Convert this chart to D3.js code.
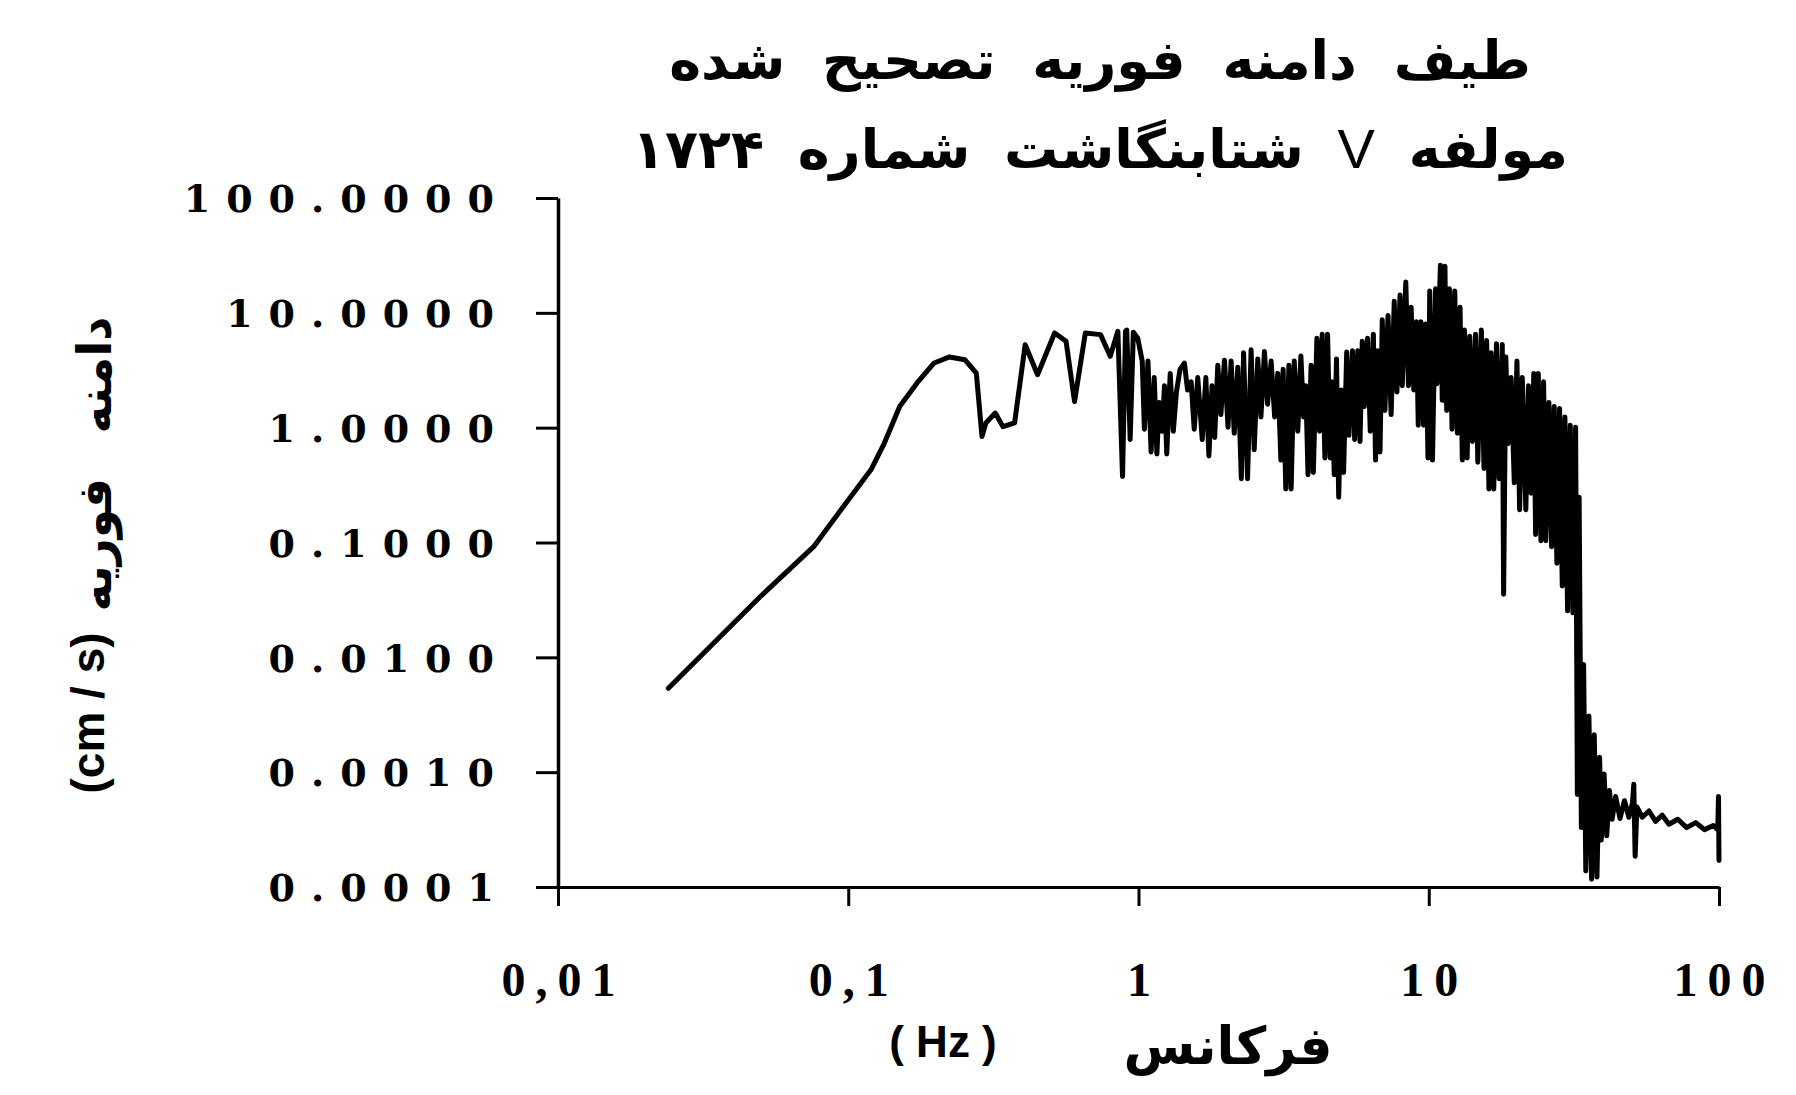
<!DOCTYPE html>
<html>
<head>
<meta charset="utf-8">
<script src="https://cdn.jsdelivr.net/npm/d3@7"></script>
<style>
  html, body { margin: 0; padding: 0; background: #ffffff; }
  svg { display: block; }
</style>
</head>
<body>
<svg id="chart" width="1796" height="1095"></svg>
<script>
// ---------- texts ----------
const titleLine1 = "طیف دامنه فوریه تصحیح شده";
const titleLine2Parts = ["مولفه ", "V", " شتابنگاشت شماره ۱۷۲۴"];
const xAxisUnit = "( Hz )";
const xAxisName = "فرکانس";
const yAxisUnit = "(cm / s)";
const yAxisName = "دامنه فوریه";

// ---------- ticks ----------
const xTickValues = [0.01, 0.1, 1, 10, 100];
const xTickLabels = ["0,01", "0,1", "1", "10", "100"];
const yTickValues = [100, 10, 1, 0.1, 0.01, 0.001, 0.0001];
const yTickLabels = ["100.0000", "10.0000", "1.0000", "0.1000", "0.0100", "0.0010", "0.0001"];

// ---------- series: frequency (Hz) / amplitude (cm/s) ----------
const freqLow = [0.0240, 0.0497, 0.0760, 0.0925, 0.1197, 0.1332, 0.1504, 0.1726, 0.1977, 0.2233,
  0.2521, 0.2762, 0.2889, 0.298, 0.321, 0.3414, 0.3742, 0.407, 0.449, 0.514,
  0.563, 0.602, 0.656, 0.740, 0.799, 0.849, 0.881, 0.902];
const ampLow = [0.00537, 0.0337, 0.0920, 0.180, 0.430, 0.734, 1.53, 2.45, 3.66, 4.13,
  3.91, 2.99, 0.838, 1.10, 1.34, 1.02, 1.10, 5.28, 2.89, 6.68,
  5.65, 1.69, 6.68, 6.46, 4.18, 6.90, 0.376, 6.90];

const freqHigh = [0.911, 0.936, 0.960, 0.994, 1.030, 1.048, 1.078, 1.105, 1.133, 1.157,
  1.178, 1.207, 1.229, 1.251, 1.286, 1.318, 1.351, 1.390, 1.439, 1.476,
  1.518, 1.556, 1.600, 1.658, 1.706, 1.748, 1.792, 1.830, 1.876, 1.922,
  1.978, 2.034, 2.085, 2.137, 2.198, 2.261, 2.301, 2.375, 2.443, 2.504,
  2.576, 2.641, 2.716, 2.784, 2.864, 2.945, 3.019, 3.094, 3.150, 3.217,
  3.297, 3.356, 3.440, 3.538, 3.627, 3.704, 3.770, 3.837, 3.933, 4.003,
  4.118, 4.206, 4.296, 4.387, 4.481, 4.577, 4.642, 4.725, 4.809, 4.895,
  4.999, 5.088, 5.216, 5.308, 5.460, 5.556, 5.696, 5.797, 5.901, 6.005,
  6.155, 6.286, 6.444, 6.558, 6.675, 6.793, 6.915, 7.063, 7.239, 7.419,
  7.605, 7.768, 7.962, 8.104, 8.335, 8.513, 8.696, 8.882, 9.072, 9.200,
  9.397, 9.598, 9.768, 9.94, 10.08, 10.30, 10.56, 10.67, 10.97, 11.13,
  11.37, 11.53, 11.78, 12.03, 12.29, 12.55, 12.82, 13.05, 13.28, 13.56,
  13.85, 14.14, 14.50, 14.76, 15.18, 15.50, 15.83, 16.12, 16.40, 16.75,
  17.11, 17.48, 17.92, 18.11, 18.43, 18.76, 19.22, 19.71, 20.13, 20.56,
  21.00, 21.60, 22.06, 22.53, 23.01, 23.34, 23.84, 24.35, 24.87, 25.31,
  25.94, 26.50, 27.06, 27.64, 28.23, 28.84, 29.45, 30.08, 30.73, 31.38,
  32.06, 32.51, 32.97, 33.56, 34.16, 34.76, 35.63, 36.39, 37.17, 37.97,
  38.78, 39.33, 40.18, 41.04, 41.92, 42.82, 44.04, 45.60, 47.24, 48.93,
  50.33, 50.87, 51.41, 52.14, 54.40, 57.36, 60.47, 63.76, 67.22, 72.14,
  77.40, 83.06, 89.13, 95.63, 99.0, 99.6, 100.0];
const ampHigh = [7.08, 0.789, 6.79, 6.00, 3.80, 0.971, 3.80, 0.615, 2.73, 0.590,
  1.66, 0.931, 2.32, 0.590, 2.97, 0.931, 2.04, 3.22, 3.65, 2.13,
  2.51, 0.971, 2.73, 0.789, 2.73, 0.567, 2.32, 0.823, 3.50, 1.30,
  3.87, 1.01, 3.80, 0.894, 3.36, 0.359, 4.49, 0.359, 4.76, 0.642,
  3.97, 1.24, 4.60, 1.60, 3.80, 1.24, 2.97, 0.522, 3.22, 0.292,
  3.50, 0.292, 3.80, 0.931, 4.20, 1.24, 2.32, 0.390, 3.50, 0.407,
  6.00, 0.931, 6.52, 0.544, 6.52, 0.544, 2.51, 0.390, 3.97, 0.248,
  2.13, 0.407, 4.56, 0.857, 4.68, 0.789, 4.68, 0.757, 5.66, 1.53,
  6.00, 0.931, 6.52, 0.522, 4.68, 0.615, 8.71, 1.41, 9.46, 1.30,
  12.6, 2.04, 14.3, 2.32, 18.6, 2.32, 11.2, 2.13, 8.35, 1.05,
  8.35, 1.05, 8.01, 0.544, 15.5, 0.522, 16.2, 2.41, 26.0, 1.73,
  25.5, 1.41, 16.2, 0.971, 15.5, 0.894, 11.2, 0.522, 7.08, 0.544,
  6.25, 0.757, 6.52, 0.501, 7.08, 0.442, 5.75, 0.292, 4.49, 0.292,
  5.39, 0.359, 5.30, 0.0354, 4.13, 0.727, 2.73, 0.331, 3.80, 0.193,
  2.73, 0.193, 2.32, 0.269, 2.97, 0.1175, 2.97, 0.1038, 2.51, 0.1038,
  1.66, 0.0918, 1.53, 0.0659, 1.47, 0.0418, 1.24, 0.0254, 1.05, 0.0244,
  1.01, 0.000639, 0.248, 0.000329, 0.00867, 0.000138, 0.00308, 0.000117, 0.00212, 0.000122,
  0.00135, 0.000257, 0.000966, 0.000279, 0.000694, 0.000389, 0.000613, 0.000395, 0.000564, 0.000405,
  0.000541, 0.000786, 0.000185, 0.000498, 0.000405, 0.000459, 0.000373, 0.000422, 0.000352, 0.000389,
  0.000329, 0.000364, 0.000316, 0.000343, 0.000316, 0.000613, 0.000170];

// ---------- build ----------
const freqHz = freqLow.concat(freqHigh);
const amplitude = ampLow.concat(ampHigh);
const n = Math.min(freqHz.length, amplitude.length);
const series = d3.range(n).map(i => ({ f: freqHz[i], a: amplitude[i] }));

const svg = d3.select("#chart");
const plot = { left: 558, right: 1719, top: 198, bottom: 887 };

const x = d3.scaleLog().domain([0.01, 100]).range([plot.left, plot.right]);
const y = d3.scaleLog().domain([0.0001, 100]).range([plot.bottom, plot.top]);

// x axis
const gx = svg.append("g")
  .attr("transform", `translate(0,${plot.bottom})`)
  .call(d3.axisBottom(x).tickValues(xTickValues)
    .tickFormat((d, i) => xTickLabels[i]).tickSize(19).tickSizeOuter(0).tickPadding(56));
gx.select(".domain").attr("stroke", "#000").attr("stroke-width", 3);
gx.selectAll(".tick line").attr("stroke", "#000").attr("stroke-width", 3);
gx.selectAll(".tick text")
  .attr("fill", "#000")
  .attr("dx", "5px")
  .style("font-family", "'Liberation Serif', serif")
  .style("font-weight", "bold")
  .style("font-size", "48px")
  .style("letter-spacing", "10px");

// y axis
const gy = svg.append("g")
  .attr("transform", `translate(${plot.left},0)`)
  .call(d3.axisLeft(y).tickValues(yTickValues)
    .tickFormat((d, i) => yTickLabels[i]).tickSize(22).tickSizeOuter(0).tickPadding(26));
gy.select(".domain").attr("stroke", "#000").attr("stroke-width", 3.5);
gy.selectAll(".tick line").attr("stroke", "#000").attr("stroke-width", 3);
gy.selectAll(".tick text")
  .attr("fill", "#000")
  .attr("dy", "0.36em")
  .style("font-family", "'DejaVu Serif', serif")
  .style("font-weight", "bold")
  .style("font-size", "38px")
  .style("letter-spacing", "16px");

// spectrum line
const line = d3.line().x(d => x(d.f)).y(d => y(d.a));
svg.append("path")
  .datum(series)
  .attr("d", line)
  .attr("fill", "none")
  .attr("stroke", "#000")
  .attr("stroke-width", 5)
  .attr("stroke-linejoin", "round")
  .attr("stroke-linecap", "round");

// titles
const persianFont = "'DejaVu Sans', sans-serif";
svg.append("text")
  .attr("x", 1100).attr("y", 79)
  .attr("direction", "rtl")
  .attr("text-anchor", "middle")
  .style("font-family", persianFont)
  .style("font-weight", "bold")
  .style("font-size", "54px")
  .style("word-spacing", "18px")
  .text(titleLine1);

const t2 = svg.append("text")
  .attr("x", 1100).attr("y", 168)
  .attr("direction", "rtl")
  .attr("text-anchor", "middle")
  .style("font-family", persianFont)
  .style("font-weight", "bold")
  .style("font-size", "54px")
  .style("word-spacing", "15px");
t2.append("tspan").text(titleLine2Parts[0]);
t2.append("tspan")
  .style("font-family", "'Liberation Sans', Arial, sans-serif")
  .style("font-weight", "normal")
  .style("font-size", "56px")
  .text(titleLine2Parts[1]);
t2.append("tspan").text(titleLine2Parts[2]);

// x axis title
svg.append("text")
  .attr("x", 943).attr("y", 1057)
  .attr("text-anchor", "middle")
  .style("font-family", "'Liberation Sans', Arial, sans-serif")
  .style("font-weight", "bold")
  .style("font-size", "44px")
  .text(xAxisUnit);
svg.append("text")
  .attr("x", 1228).attr("y", 1064)
  .attr("text-anchor", "middle")
  .style("font-family", persianFont)
  .style("font-weight", "bold")
  .style("font-size", "52px")
  .text(xAxisName);

// y axis title (two parts, rotated)
svg.append("text")
  .attr("transform", "translate(88,713) rotate(-90)")
  .attr("text-anchor", "middle")
  .attr("dominant-baseline", "central")
  .style("font-family", "'Liberation Sans', Arial, sans-serif")
  .style("font-weight", "bold")
  .style("font-size", "46px")
  .text(yAxisUnit);

svg.append("text")
  .attr("transform", "translate(94,464) rotate(-90)")
  .attr("text-anchor", "middle")
  .attr("dominant-baseline", "central")
  .style("font-family", persianFont)
  .style("font-weight", "bold")
  .style("font-size", "47px")
  .style("word-spacing", "28px")
  .text(yAxisName);
</script>
</body>
</html>
